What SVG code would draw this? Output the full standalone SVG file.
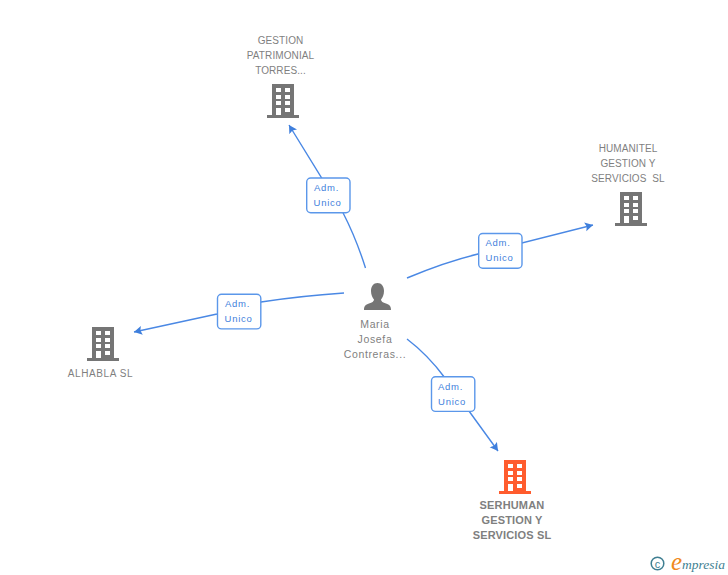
<svg xmlns="http://www.w3.org/2000/svg" width="728" height="575" viewBox="0 0 728 575">
<style>
.n{font:10px "Liberation Sans",Arial,sans-serif;fill:#7f7f7f;text-anchor:middle;letter-spacing:.1px}
.b{font:bold 11px "Liberation Sans",Arial,sans-serif;fill:#7f7f7f;text-anchor:middle;letter-spacing:.15px}
.p{font:10.5px "Liberation Sans",Arial,sans-serif;fill:#7f7f7f;text-anchor:middle;letter-spacing:.65px}
.l{font:9.5px "Liberation Sans",Arial,sans-serif;fill:#3f7fdc;text-anchor:middle;letter-spacing:.7px}
.c{fill:none;stroke:#4a88e4;stroke-width:1.4;marker-end:url(#a)}
.box{fill:#fff;stroke:#5b97ea;stroke-width:1.4}
</style>
<defs>
<marker id="a" markerUnits="userSpaceOnUse" markerWidth="10" markerHeight="10" refX="8" refY="4.500" orient="auto">
<path d="M0,0L8,4.500L0,9L1.500,4.500Z" fill="#3f7fdc"/>
</marker>
<g id="bld">
<path fill-rule="evenodd" d="M5,0H27V31H32V34H0V31H5ZM9,4V8H14V4ZM18,4V8H23V4ZM9,11V15H14V11ZM18,11V15H23V11ZM9,17V21H14V17ZM18,17V21H23V17ZM9,24V31H14V24ZM18,24V28H23V24Z"/>
</g>
</defs>
<g id="connectors">
<path class="c" d="M365.500,268Q356,238 343,212.700L289,125"/>
<path class="c" d="M407,278Q445,262 478,254L593,225"/>
<path class="c" d="M344,293Q300,296 261,302L217,314L134,332"/>
<path class="c" d="M407,339Q428,355 445,378L498,451"/>
</g>
<g id="node-gestion">
<use href="#bld" x="267" y="84" fill="#757575"/>
<text class="n" x="280.500" y="44">GESTION</text>
<text class="n" x="280.500" y="59">PATRIMONIAL</text>
<text class="n" x="280.500" y="74">TORRES...</text>
</g>
<g id="node-humanitel">
<use href="#bld" x="615" y="192" fill="#757575"/>
<text class="n" x="628" y="152">HUMANITEL</text>
<text class="n" x="628" y="167">GESTION Y</text>
<text class="n" x="628" y="182" xml:space="preserve">SERVICIOS  SL</text>
</g>
<g id="node-alhabla">
<use href="#bld" x="87" y="327" fill="#757575"/>
<text class="n" x="100.500" y="377" style="letter-spacing:.6px">ALHABLA SL</text>
</g>
<g id="node-serhuman">
<use href="#bld" x="499" y="460" fill="#ff5c2e"/>
<text class="b" x="512" y="509">SERHUMAN</text>
<text class="b" x="512" y="524">GESTION Y</text>
<text class="b" x="512" y="539">SERVICIOS SL</text>
</g>
<g id="node-maria">
<path fill="#757575" d="M377.500,283C381.500,283 384,286.500 384,291C384,295 382.500,297.500 381,299.500C381,301.500 383,302.500 386,303.500C389.500,304.700 391,306 391,310H364C364,306 365.500,304.700 369,303.500C372,302.500 374,301.500 374,299.500C372.500,297.500 371,295 371,291C371,286.500 373.500,283 377.500,283Z"/>
<text class="p" x="375" y="328">Maria</text>
<text class="p" x="375" y="343">Josefa</text>
<text class="p" x="375" y="358">Contreras...</text>
</g>
<g id="label-1"><rect class="box" x="306.700" y="178" width="43.300" height="34.700" rx="4"/><text class="l" x="326.500" y="191">Adm.</text><text class="l" x="327.500" y="206">Unico</text></g>
<g id="label-2"><rect class="box" x="478.700" y="233.500" width="43.300" height="34.700" rx="4"/><text class="l" x="498" y="246">Adm.</text><text class="l" x="499.500" y="261">Unico</text></g>
<g id="label-3"><rect class="box" x="217.500" y="294.200" width="43.300" height="34.700" rx="4"/><text class="l" x="237.500" y="307">Adm.</text><text class="l" x="238.500" y="322">Unico</text></g>
<g id="label-4"><rect class="box" x="431.500" y="376.700" width="43.300" height="34.700" rx="4"/><text class="l" x="450.500" y="390">Adm.</text><text class="l" x="452" y="405">Unico</text></g>
<g id="logo">
<circle cx="657.500" cy="563.500" r="6.300" fill="none" stroke="#3f7f92" stroke-width="1.500"/>
<text x="657.500" y="567.500" font-family="Liberation Sans,sans-serif" font-size="11" fill="#3f7f92" text-anchor="middle">c</text>
<text x="671" y="570" font-family="Liberation Serif,serif" font-style="italic" font-size="25" fill="#f08a1d">e</text>
<text x="682" y="569" font-family="Liberation Serif,serif" font-style="italic" font-size="13.500" fill="#3f7f92">mpresia</text>
</g>
</svg>
